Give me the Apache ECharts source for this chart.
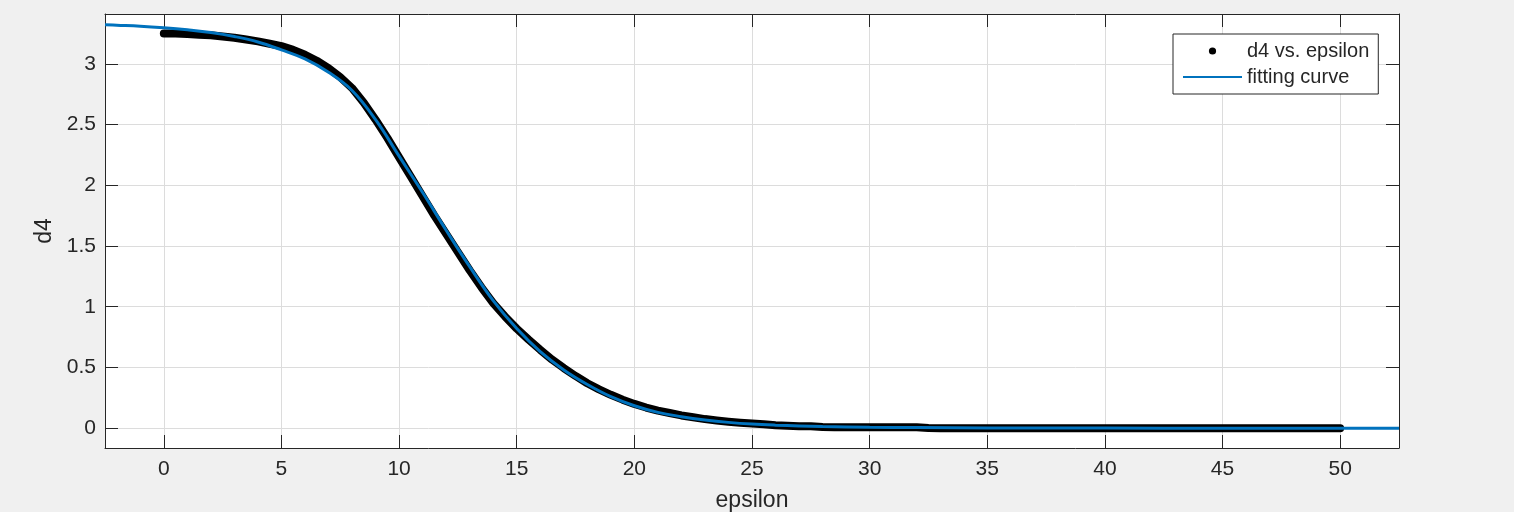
<!DOCTYPE html>
<html><head><meta charset="utf-8">
<script src="https://cdn.jsdelivr.net/npm/echarts@6/dist/echarts.min.js"></script>
<style>html,body{margin:0;padding:0;background:#f0f0f0;}#c{width:1514px;height:512px;}</style>
</head><body><div id="c"></div><script>
const epsilon = [0,0.5,1,1.5,2,2.5,3,3.5,4,4.5,5,5.5,6,6.5,7,7.5,8,8.5,9,9.5,10,10.5,11,11.5,12,12.5,13,13.5,14,14.5,15,15.5,16,16.5,17,17.5,18,18.5,19,19.5,20,20.5,21,21.5,22,22.5,23,23.5,24,24.5,25,25.5,26,26.5,27,27.5,28,28.5,29,29.5,30,30.5,31,31.5,32,32.5,33,33.5,34,34.5,35,35.5,36,36.5,37,37.5,38,38.5,39,39.5,40,40.5,41,41.5,42,42.5,43,43.5,44,44.5,45,45.5,46,46.5,47,47.5,48,48.5,49,49.5,50];
const d4 = [3.25,3.25,3.245,3.24,3.235,3.225,3.215,3.2,3.185,3.165,3.145,3.115,3.075,3.025,2.965,2.89,2.8,2.68,2.54,2.39,2.23,2.07,1.91,1.75,1.6,1.45,1.3,1.16,1.03,0.92,0.82,0.73,0.645,0.565,0.495,0.43,0.37,0.32,0.275,0.235,0.2,0.17,0.145,0.125,0.105,0.09,0.075,0.063,0.053,0.045,0.038,0.033,0.025,0.02,0.016,0.016,0.009,0.008,0.008,0.008,0.008,0.008,0.008,0.008,0.008,0.001,0,0,0,0,0,0,0,0,0,0,0,0,0,0,0,0,0,0,0,0,0,0,0,0,0,0,0,0,0,0,0,0,0,0,0];
// fitting curve
const fitEpsilon = [-2.5,-2,-1,0,1,2,3,4,5,6,7,8,9,10,11,12,13,14,15,16,17,18,19,20,21,22,23,24,25,26,27,28,30,32,35,40,45,50,52.5];
const fitD4 = [3.322,3.318,3.31,3.297,3.28,3.258,3.225,3.18,3.114,3.04,2.93,2.78,2.54,2.24,1.94,1.63,1.33,1.05,0.82,0.63,0.48,0.36,0.26,0.185,0.13,0.095,0.068,0.048,0.034,0.025,0.019,0.014,0.008,0.005,0.002,0.001,0,0,0];
const xTicks = [0,5,10,15,20,25,30,35,40,45,50];
const yTicks = [0,0.5,1,1.5,2,2.5,3];
const seriesNames = ['d4 vs. epsilon','fitting curve'];

const FF = '"Liberation Sans", Arial, Helvetica, sans-serif';
const TXT = '#262626';
const chart = echarts.init(document.getElementById('c'), null, {renderer:'canvas'});
function ax(extra){
  return Object.assign({
    type:'value',
    axisLine:{show:true,onZero:false,lineStyle:{color:TXT,width:1}},
    splitLine:{show:false}
  }, extra);
}
chart.setOption({
  animation:false,
  backgroundColor:'#f0f0f0',
  grid:{left:105,right:115,top:14,bottom:64,show:true,backgroundColor:'#ffffff',borderWidth:0,containLabel:false,outerBoundsMode:'none'},
  legend:{
    left:1173, top:34, orient:'vertical', selectedMode:false,
    backgroundColor:'#ffffff', borderColor:TXT, borderWidth:1, borderRadius:0,
    padding:[5,9,5,9], itemGap:2, itemWidth:59, itemHeight:9,
    textStyle:{fontFamily:FF,fontSize:20,color:TXT,lineHeight:24},
    data:[
      {name:seriesNames[0], lineStyle:{opacity:0}, itemStyle:{color:'#000'}},
      {name:seriesNames[1], itemStyle:{opacity:0}}
    ]
  },
  xAxis:[
    ax({min:-2.5,max:52.5,position:'bottom',
      axisTick:{show:true,inside:true,length:13,customValues:xTicks,lineStyle:{color:TXT}},
      axisLabel:{customValues:xTicks,margin:11,fontSize:21,color:TXT,fontFamily:FF},
      splitLine:{show:true,lineStyle:{color:'#dcdcdc',width:1}},
      name:'epsilon',nameLocation:'middle',nameGap:41,
      nameTextStyle:{fontSize:23,color:TXT,fontFamily:FF}}),
    ax({min:-2.5,max:52.5,position:'top',
      axisTick:{show:true,inside:true,length:13,customValues:xTicks,lineStyle:{color:TXT}},
      axisLabel:{show:false,customValues:xTicks}})
  ],
  yAxis:[
    ax({min:-0.163,max:3.41,position:'left',
      axisTick:{show:true,inside:true,length:13,customValues:yTicks,lineStyle:{color:TXT}},
      axisLabel:{customValues:yTicks,margin:9,fontSize:21,color:TXT,fontFamily:FF},
      splitLine:{show:true,lineStyle:{color:'#dcdcdc',width:1}},
      name:'d4',nameLocation:'middle',nameGap:44,
      nameTextStyle:{fontSize:23,color:TXT,fontFamily:FF}}),
    ax({min:-0.163,max:3.41,position:'right',
      axisTick:{show:true,inside:true,length:13,customValues:yTicks,lineStyle:{color:TXT}},
      axisLabel:{show:false,customValues:yTicks}})
  ],
  series:[
    {name:seriesNames[0],type:'line',xAxisIndex:0,yAxisIndex:0,
      data:epsilon.map((e,i)=>[e,d4[i]]),
      symbol:'circle',symbolSize:8,showSymbol:false,silent:true,
      itemStyle:{color:'#000'},
      lineStyle:{color:'#000',width:8,cap:'round',join:'round'},z:2},
    {name:seriesNames[1],type:'line',xAxisIndex:0,yAxisIndex:0,
      data:fitEpsilon.map((e,i)=>[e,fitD4[i]]),
      smooth:0.4,symbol:'none',silent:true,
      itemStyle:{color:'#0072BD'},
      lineStyle:{color:'#0072BD',width:3},z:3}
  ]
});
</script></body></html>
